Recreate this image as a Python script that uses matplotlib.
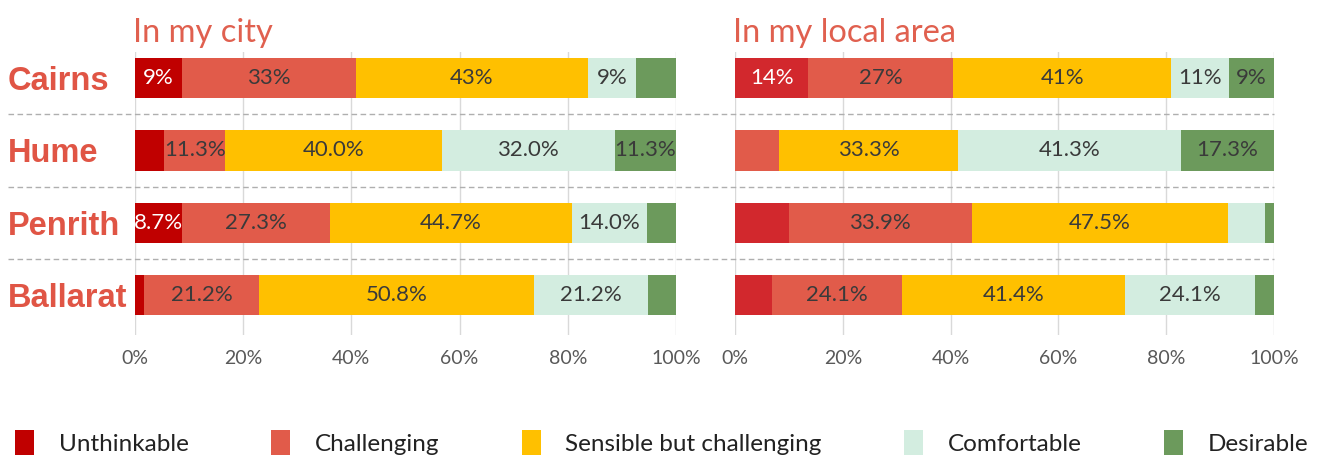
import numpy as np
import matplotlib.pyplot as plt
import matplotlib.transforms as mtransforms
from matplotlib.lines import Line2D

# --- Данные ---
categories = ["Cairns", "Hume", "Penrith", "Ballarat"]
levels = ["Unthinkable", "Challenging", "Sensible but challenging", "Comfortable", "Desirable"]
city_colors = ["#C00000", "#E15B4A", "#FFC000", "#D3EDE0", "#6C9A5C"]
area_colors = ["#D2282D", "#E15B4A", "#FFC000", "#D3EDE0", "#6C9A5C"]

# In my city
city_unthinkable = [8.7, 5.4, 8.7, 1.7]
city_challenging = [32.1, 11.3, 27.3, 21.2]
city_sensible = [42.9, 40.0, 44.7, 50.8]
city_comfortable = [8.9, 32.0, 14.0, 21.2]
city_desirable = [7.4, 11.3, 5.3, 5.1]

city_lab_unthinkable = ["9%", "", "8.7%", ""]
city_lab_challenging = ["33%", "11.3%", "27.3%", "21.2%"]
city_lab_sensible = ["43%", "40.0%", "44.7%", "50.8%"]
city_lab_comfortable = ["9%", "32.0%", "14.0%", "21.2%"]
city_lab_desirable = ["", "11.3%", "", ""]

# In my local area
area_unthinkable = [13.6, 0.0, 10.0, 6.9]
area_challenging = [26.9, 8.1, 33.9, 24.1]
area_sensible = [40.4, 33.3, 47.5, 41.4]
area_comfortable = [10.7, 41.3, 6.9, 24.1]
area_desirable = [8.4, 17.3, 1.7, 3.5]

area_lab_unthinkable = ["14%", "", "", ""]
area_lab_challenging = ["27%", "", "33.9%", "24.1%"]
area_lab_sensible = ["41%", "33.3%", "47.5%", "41.4%"]
area_lab_comfortable = ["11%", "41.3%", "", "24.1%"]
area_lab_desirable = ["9%", "17.3%", "", ""]

xticks = [0, 20, 40, 60, 80, 100]

panels = [
    ("In my city", city_colors,
     [city_unthinkable, city_challenging, city_sensible, city_comfortable, city_desirable],
     [city_lab_unthinkable, city_lab_challenging, city_lab_sensible, city_lab_comfortable, city_lab_desirable]),
    ("In my local area", area_colors,
     [area_unthinkable, area_challenging, area_sensible, area_comfortable, area_desirable],
     [area_lab_unthinkable, area_lab_challenging, area_lab_sensible, area_lab_comfortable, area_lab_desirable]),
]

W, H = 1318, 455
fig = plt.figure(figsize=(W / 100, H / 100), dpi=100)
fig.patch.set_facecolor("white")

title_red = "#E0604F"
cat_red = "#E05545"
txt_dark = "#3A3A3A"

axes_boxes = [
    [135 / W, 1 - 335 / H, 541 / W, 283 / H],
    [735 / W, 1 - 335 / H, 539 / W, 283 / H],
]

y = np.arange(len(categories))
axes = []
for (title, colors, series, labels), box in zip(panels, axes_boxes):
    ax = fig.add_axes(box)
    axes.append(ax)
    left = np.zeros(len(categories))
    for k, (vals, labs) in enumerate(zip(series, labels)):
        bars = ax.barh(y, vals, left=left, height=0.56, color=colors[k],
                       label=levels[k], zorder=2)
        col = "white" if k == 0 else txt_dark
        ax.bar_label(bars, labels=labs, label_type="center", color=col,
                     fontsize=16, family="Lato")
        left = left + np.array(vals)

    ax.set_xlim(0, 100)
    ax.set_ylim(3.55, -0.36)
    ax.set_xticks(xticks)
    ax.set_xticklabels([f"{t}%" for t in xticks], color="#595959",
                       fontsize=14, family="Lato")
    ax.tick_params(axis="x", length=0, pad=11)
    ax.grid(axis="x", color="#D9D9D9", linewidth=1, zorder=0)
    for s in ax.spines.values():
        s.set_visible(False)
    ax.set_title(title, loc="left", color=title_red, fontsize=23.5,
                 family="Lato", pad=7, x=-0.004)

# названия городов слева
axes[0].set_yticks(y)
axes[0].set_yticklabels(categories, color=cat_red, fontsize=23.5,
                        fontweight="bold", family="Liberation Sans")
axes[0].tick_params(axis="y", length=0, pad=91.5)
for lab in axes[0].get_yticklabels():
    lab.set_horizontalalignment("left")
axes[1].set_yticks([])

# пунктирные разделители между строками
tr = mtransforms.blended_transform_factory(fig.transFigure, axes[0].transData)
for yy in y[:-1] + 0.5:
    fig.add_artist(Line2D([8 / W, 1274 / W], [yy, yy], transform=tr,
                          color="#AFAFAF", linewidth=1.0, linestyle=(0, (4, 2.5))))

# легенда
handles, hlabels = axes[0].get_legend_handles_labels()
leg = fig.legend(handles, hlabels, loc="lower left", ncol=5, mode="expand",
                 bbox_to_anchor=(0.004, -0.024, 0.996, 0.06), frameon=False,
                 handlelength=0.8, handleheight=1.3, handletextpad=1.0,
                 prop={"family": "Lato", "size": 17.5}, borderaxespad=0)
for t in leg.get_texts():
    t.set_color("#222222")

fig.savefig("out.png", dpi=100)
